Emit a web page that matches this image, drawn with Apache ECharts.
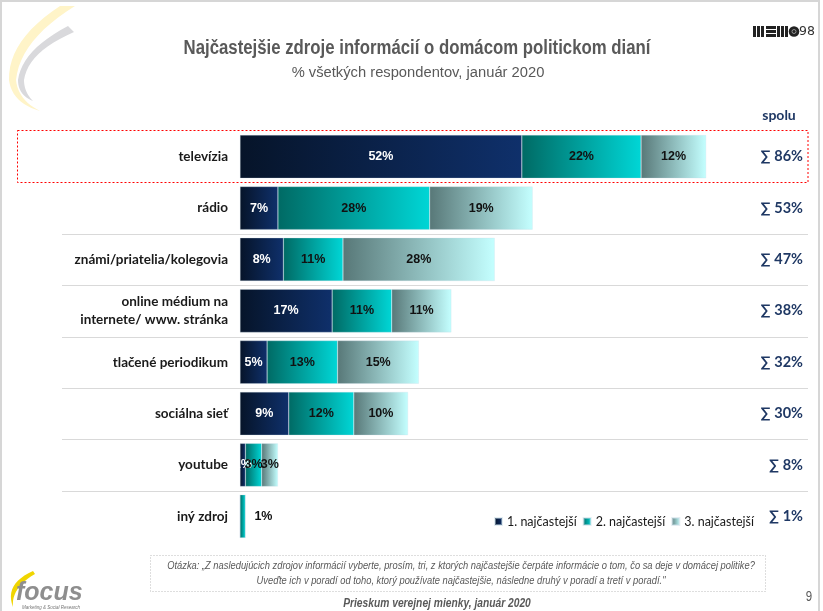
<!DOCTYPE html>
<html>
<head>
<meta charset="utf-8">
<script src="https://cdn.jsdelivr.net/npm/echarts@6/dist/echarts.min.js"></script>
<style>
html,body{margin:0;padding:0;background:#fff;}
#main{width:823px;height:611px;}
</style>
</head>
<body>
<div id="main"></div>
<script>
const categories = ['televízia','rádio','známi/priatelia/kolegovia','online médium na\ninternete/ www. stránka','tlačené periodikum','sociálna sieť','youtube','iný zdroj'];
const first = [52,7,8,17,5,9,1,0];
const second = [22,28,11,11,13,12,3,1];
const third = [12,19,28,11,15,10,3,0];
const totals = [86,53,47,38,32,30,8,1];
const seriesNames = ['1. najčastejší','2. najčastejší','3. najčastejší'];

const ARIAL = "'Liberation Sans',Arial,sans-serif";
const CAL = "Lato,'Open Sans',sans-serif";
const NAVY = '#1F3864';

function grad(a,b){return new echarts.graphic.LinearGradient(0,0,1,0,[{offset:0,color:a},{offset:1,color:b}]);}
const colors = [grad('#061429','#0f306b'), grad('#006a64','#00d6d6'), grad('#587878','#c4ffff')];

const chart = echarts.init(document.getElementById('main'), null, {renderer:'canvas'});

function lbl(color){
  return {show:true, position:'inside', color:color, fontFamily:ARIAL, fontWeight:'bold', fontSize:12.5,
    formatter:p=> (p.value>0? p.value+'%':'')};
}

const seriesData = [first, second, third];
const series = seriesData.map((arr,k)=>({
  name: seriesNames[k], type:'bar', stack:'s', xAxisIndex:0, yAxisIndex:0,
  barCategoryGap:'16%',
  itemStyle:{color:colors[k], borderColor:'rgba(200,220,230,0.5)', borderWidth:0.5},
  label: lbl(k===0?'#fff':'#111'),
  data: arr.map((v,i)=> (k===1 && first[i]===0 && third[i]===0) ? {value:v, label:{position:'right', distance:9, color:'#111'}} : v)
}));

chart.setOption({
  animation:false,
  legend:{data:seriesNames, left:489, top:510, icon:'rect', itemWidth:7, itemHeight:7, itemGap:6,
    textStyle:{fontFamily:CAL, fontSize:12.5, color:'#1a1a1a'}},
  grid:{left:240, right:41, top:131, bottom:69, containLabel:false},
  xAxis:{type:'value', min:0, max:100, show:false},
  yAxis:[
    {type:'category', data:categories, inverse:true, axisLine:{show:false}, axisTick:{show:false}, splitLine:{show:false},
      axisLabel:{margin:12, fontFamily:CAL, fontWeight:'bold', fontSize:13.5, color:'#1a1a1a', lineHeight:18}},
    {type:'category', position:'right', data:totals.map(t=>'∑ '+t+'%'), inverse:true, axisLine:{show:false}, axisTick:{show:false},
      axisLabel:{margin:21, align:'right', fontFamily:CAL, fontWeight:'bold', fontSize:14.5, color:NAVY}}
  ],
  series: series
});

function qpoly(start, segs){
  const pts=[start.slice()]; let p=start;
  segs.forEach(s=>{
    const [cx,cy,ex,ey]=s;
    for(let t=1;t<=12;t++){const u=t/12;
      pts.push([(1-u)*(1-u)*p[0]+2*(1-u)*u*cx+u*u*ex,(1-u)*(1-u)*p[1]+2*(1-u)*u*cy+u*u*ey]);}
    p=[ex,ey];
  });
  return pts;
}
function ntext(x,y,text,sx,opts){
  return {type:'text', x:x, y:y, scaleX:sx, scaleY:1,
    style:Object.assign({text:text, fontFamily:ARIAL, textAlign:'center', textVerticalAlign:'middle', fill:'#595959'}, opts)};
}

const y0 = chart.convertToPixel({yAxisIndex:0}, 0);
const y1 = chart.convertToPixel({yAxisIndex:0}, 1);
const band = y1 - y0;
const g = [];
g.push({type:'rect', shape:{x:1,y:1,width:818,height:660}, style:{fill:'none', stroke:'#d6d6d6', lineWidth:2}, z:0});
for(let i=1;i<categories.length-1;i++){
  const y = Math.round(chart.convertToPixel({yAxisIndex:0}, i) + band/2) + 0.5;
  g.push({type:'line', shape:{x1:62,y1:y,x2:808,y2:y}, style:{stroke:'#d9d9d9', lineWidth:1.2}, z:0});
}
g.push({type:'rect', shape:{x:17.5, y:Math.round(y0-band/2)-0.5, width:790.5, height:Math.round(band)+1},
  style:{fill:'none', stroke:'#ff0000', lineWidth:1, lineDash:[2,2]}, z:10});
g.push(ntext(417,49,'Najčastejšie zdroje informácií o domácom politickom dianí',0.86,{fontWeight:'bold', fontSize:19.5}));
g.push(ntext(418,73,'% všetkých respondentov, január 2020',0.95,{fontSize:15.5}));
g.push({type:'text', x:779, y:115, style:{text:'spolu', fontFamily:CAL, fontWeight:'bold', fontSize:14, fill:NAVY, textAlign:'center', textVerticalAlign:'middle'}});
g.push({type:'rect', shape:{x:150.5,y:555.5,width:615,height:36}, style:{fill:'none', stroke:'#bdbdbd', lineWidth:1, lineDash:[1,2]}});
g.push(ntext(461,566,'Otázka: „Z nasledujúcich zdrojov informácií vyberte, prosím, tri, z ktorých najčastejšie čerpáte informácie o tom, čo sa deje v domácej politike?',0.82,{fontStyle:'italic', fontSize:11.4}));
g.push(ntext(461,581,'Uveďte ich v poradí od toho, ktorý používate najčastejšie, následne druhý v poradí a tretí v poradí."',0.82,{fontStyle:'italic', fontSize:11.4}));
g.push(ntext(437,604,'Prieskum verejnej mienky, január 2020',0.82,{fontStyle:'italic', fontWeight:'bold', fontSize:12.5}));
g.push(ntext(809,597,'9',0.82,{fontSize:14}));
g.push({type:'polygon', shape:{points:qpoly([60,6],[[8,40,9,80],[12,103,40,111],[18,100,16,80],[20,40,75,6]])}, style:{fill:'#FFF4C8'}});
g.push({type:'polygon', shape:{points:qpoly([68,26],[[22,50,18,80],[18,95,33,101],[24,92,24,80],[28,52,74,32]])}, style:{fill:'#D9D9DC'}});
g.push({type:'polygon', shape:{points:qpoly([33,571],[[4,584,13,607],[11,588,35,574]])}, style:{fill:'#F0D500'}});
g.push({type:'text', x:16, y:593, style:{text:'focus', fontFamily:ARIAL, fontStyle:'italic', fontWeight:'bold', fontSize:25, fill:'#8e8e8e', textVerticalAlign:'middle'}});
g.push({type:'text', x:22, y:608, style:{text:'Marketing & Social Research', fontFamily:ARIAL, fontStyle:'italic', fontSize:4.5, fill:'#777', textVerticalAlign:'middle'}});
[753,757,761,777,781,785].forEach(x=>g.push({type:'rect', shape:{x:x,y:26,width:3,height:11}, style:{fill:'#222'}}));
[26,30,34].forEach(y=>g.push({type:'rect', shape:{x:766,y:y,width:10,height:3}, style:{fill:'#222'}}));
g.push({type:'circle', shape:{cx:794,cy:31.5,r:5.3}, style:{fill:'#222'}});
g.push({type:'circle', shape:{cx:794,cy:31.5,r:2}, style:{fill:'none', stroke:'#aaa', lineWidth:0.8}});
g.push({type:'text', x:799, y:32, style:{text:'98', fontFamily:"'DejaVu Sans',sans-serif", fontSize:12.5, fill:'#333', textVerticalAlign:'middle'}});

chart.setOption({graphic: g});
</script>
</body>
</html>
